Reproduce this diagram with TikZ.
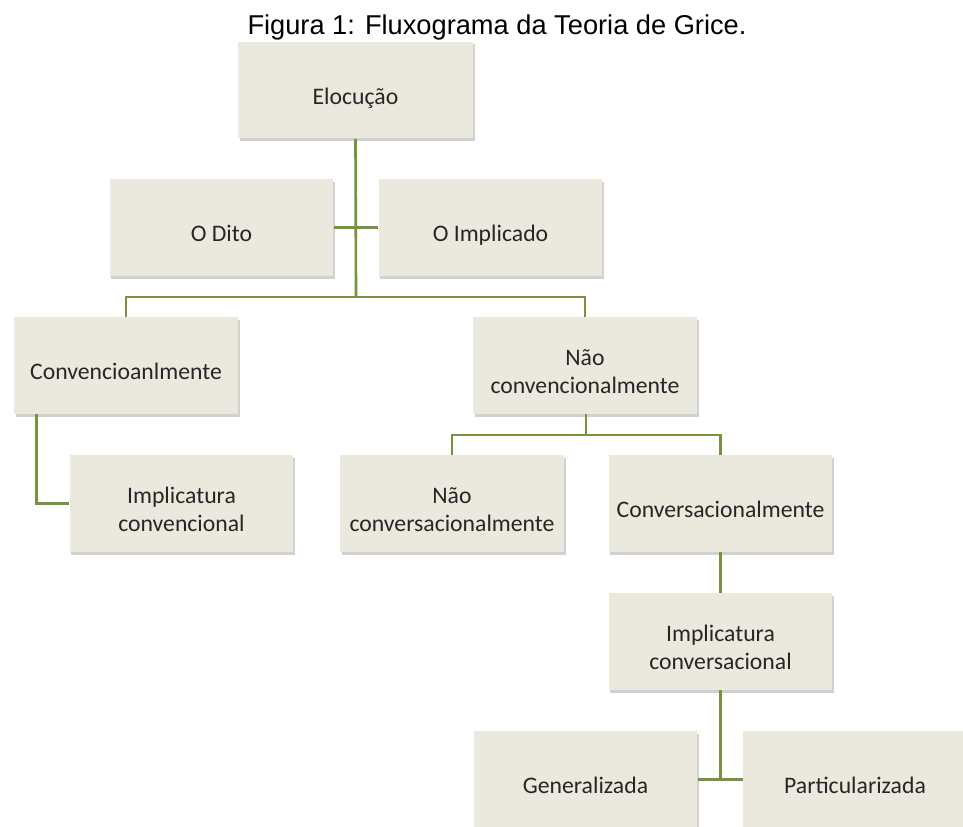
\documentclass[tikz,border=0pt]{standalone}
\usepackage{fontspec}
\setmainfont{Carlito}
\newfontfamily\titlefont{Liberation Sans}
\usepackage{tikz}
\usetikzlibrary{shadows}

\definecolor{boxfill}{HTML}{EBE8DE}
\definecolor{linegreen}{HTML}{77933C}
\definecolor{textgray}{HTML}{262626}

% texto da caixa, um pouco abaixo do centro
\newcommand{\txtcaixa}[1]{\raisebox{-4.8pt}[\height][\depth]{\begin{tabular}{@{}c@{}}#1\end{tabular}}}

\tikzset{
  caixa/.style={fill=boxfill, draw=none, minimum width=4.48cm, minimum height=1.94cm,
    inner sep=0pt, text=textgray, font=\fontsize{13.5}{16}\selectfont,
    drop shadow={shadow xshift=1pt, shadow yshift=-1.6pt, opacity=0.3, fill=black!60}},
  liga/.style={draw=linegreen, line width=1.5pt}
}

\begin{document}
\begin{tikzpicture}[x=0.02cm, y=-0.02cm]
         \useasboundingbox (0,0) rectangle (963,827);
         \node[font=\titlefont\fontsize{15.5}{18}\selectfont] (titulo) at (497,27) {Figura 1: Fluxograma da Teoria de Grice.};

         % caixas
         \node[caixa, minimum width=4.7cm] (eloc) at (355.5,90) {\txtcaixa{Elocução}};
         \node[caixa] (dito) at (221.5,227.5) {\txtcaixa{O Dito}};
         \node[caixa] (implicado) at (490.5,227.5) {\txtcaixa{O Implicado}};

         \node[caixa] (conv) at (126,365.5) {\txtcaixa{Convencioanlmente}};
         \node[caixa] (naoconv) at (585,365.5) {\txtcaixa{Não\\convencionalmente}};

         \node[caixa] (implconv) at (181.5,503.5) {\txtcaixa{Implicatura\\convencional}};
         \node[caixa] (naoconvers) at (452,503.5) {\txtcaixa{Não\\conversacionalmente}};
         \node[caixa] (convers) at (720.5,503.5) {\txtcaixa{Conversacionalmente}};

         \node[caixa] (implconvers) at (720.5,641.5) {\txtcaixa{Implicatura\\conversacional}};

         \node[caixa] (gen) at (585.5,779.5) {\txtcaixa{Generalizada}};
         \node[caixa] (part) at (855,779.5) {\txtcaixa{Particularizada}};

         % ligacoes
         \coordinate (split1) at (356,297);
         \coordinate (split2) at (586,435);
         \draw[liga] (eloc.south) -- (split1);
         \draw[liga] (dito.east) -- (dito.east -| split1);
         \draw[liga] (implicado.west) -- (implicado.west -| split1);
         \draw[liga] (conv.north) |- (split1) -| (naoconv.north);
         \draw[liga] ([xshift=0.46cm]conv.south west) |- (implconv.west);

         \draw[liga] (naoconv.south -| split2) -- (split2);
         \draw[liga] (naoconvers.north) |- (split2) -| (convers.north);
         \draw[liga] (convers.south) -- (implconvers.north);

         \draw[liga] (implconvers.south) -- (implconvers.south |- gen.east);
         \draw[liga] (gen.east) -- (part.west);
\end{tikzpicture}
\end{document}
